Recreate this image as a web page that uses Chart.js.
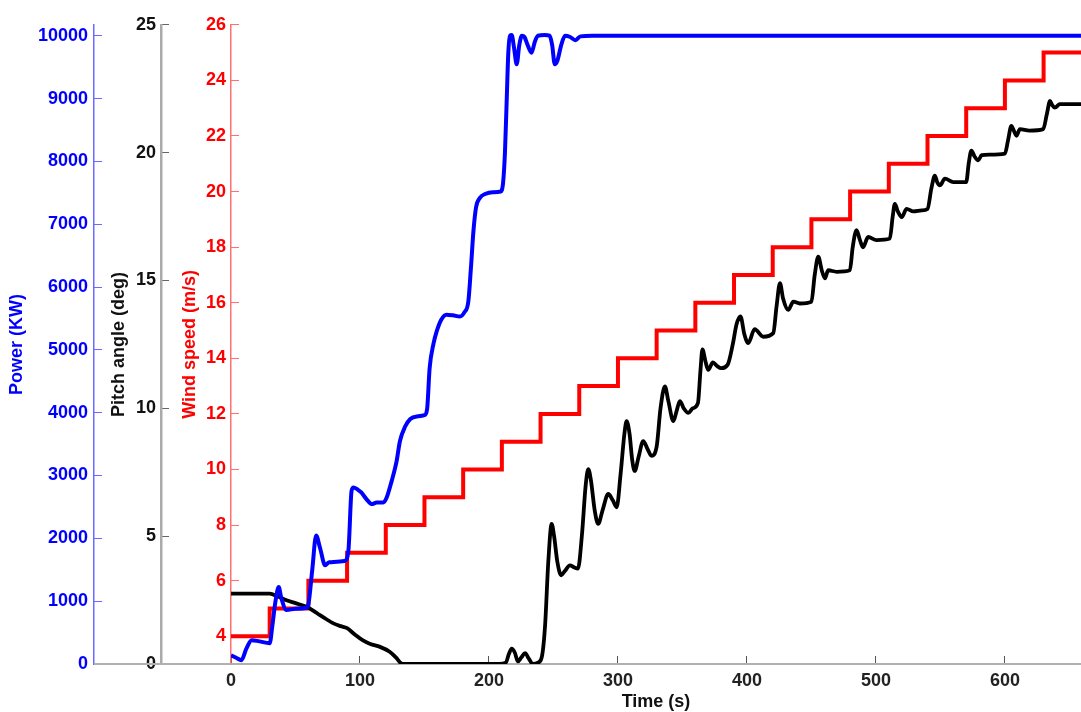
<!DOCTYPE html>
<html>
<head>
<meta charset="utf-8">
<script src="https://cdn.jsdelivr.net/npm/chart.js@4.4.1/dist/chart.umd.min.js"></script>
<style>
  html, body { margin: 0; padding: 0; background: #fff; }
  #wrap { width: 1081px; height: 712px; }
</style>
</head>
<body>
<div id="wrap"><canvas id="chart"></canvas></div>
<script>
Chart.defaults.font.family = '"Liberation Sans", Arial, sans-serif';
Chart.defaults.font.weight = 'bold';
Chart.defaults.font.size = 18;

// wind speed steps (m/s)
const windTime  = [0, 30, 60, 90, 120, 150, 180, 210, 240, 270, 300, 330, 360, 390, 420, 450, 480, 510, 540, 570, 600, 630, 659];
const windSpeed = [4, 5, 6, 7, 8, 9, 10, 11, 12, 13, 14, 15, 16, 17, 18, 19, 20, 21, 22, 23, 24, 25, 25];

// power (KW)
const powerTime  = [0, 4, 8, 12, 16, 22, 30, 32, 34.5, 37, 39, 43, 50, 58, 60, 63, 66, 69, 73, 76, 88, 91, 93.5, 95, 98, 101, 105, 109, 113, 118, 120.7, 124.6, 128.4, 131, 135, 139, 144, 150, 152, 154, 157, 159.4, 163, 167, 172, 177.5, 181, 184, 186, 188, 190, 193, 197, 203, 209, 211, 212.4, 213.7, 215, 216.3, 217.6, 219.5, 221.5, 223.5, 225.5, 227.5, 230, 233, 235.5, 238, 243, 247, 249, 251, 253, 256, 259, 263, 267, 271, 280, 400, 500, 600, 659];
const powerValue = [140, 100, 60, 250, 380, 360, 330, 600, 1000, 1225, 1050, 860, 880, 890, 950, 1500, 2045, 1850, 1570, 1620, 1640, 1800, 2760, 2810, 2780, 2730, 2625, 2545, 2570, 2570, 2650, 2915, 3230, 3550, 3780, 3900, 3940, 3960, 4050, 4710, 5100, 5290, 5480, 5560, 5550, 5530, 5600, 5770, 6300, 6900, 7270, 7420, 7480, 7510, 7520, 7670, 8145, 8940, 9730, 10000, 10010, 9800, 9545, 9850, 10000, 9980, 9850, 9730, 9900, 10000, 10010, 10000, 9850, 9545, 9600, 9850, 10000, 9980, 9930, 9990, 10000, 10000, 10000, 10000, 10000];

// pitch angle (deg)
const pitchTime  = [0, 30, 36, 43, 50, 59, 64, 69, 74, 79, 85, 90, 96, 102, 108, 115.5, 123, 128, 132, 134, 170, 208, 213, 215.5, 217.6, 220, 222.5, 225, 228, 231, 234, 238, 241, 243.5, 246, 248.6, 250.5, 253, 256, 259, 262.8, 266, 269, 272, 275, 277, 279, 282, 284.7, 288, 292.5, 296, 299, 302, 305, 306.7, 309, 311, 313, 316, 319.6, 323, 326, 330, 333, 336.4, 339, 343, 345.5, 348, 351, 354.5, 358, 362, 364, 365.5, 368, 370, 373.6, 377, 380, 385, 389, 392, 395, 398, 401, 406, 412.6, 420.4, 423, 425.6, 428, 432, 436, 441, 450, 452.5, 455.3, 458, 460.5, 463, 469.5, 479.8, 482, 485, 487.5, 490, 494, 500.5, 510.8, 513, 514.7, 517, 520, 523.8, 529, 535.4, 540, 543, 545.7, 547.5, 549.6, 553.5, 560, 570, 572, 574, 576.5, 579.3, 582, 588, 600, 602.5, 605, 607, 609, 611.6, 619, 629.7, 632.5, 635, 636.8, 638.8, 642.6, 650, 659];
const pitchValue = [2.75, 2.75, 2.65, 2.49, 2.38, 2.23, 2.08, 1.91, 1.75, 1.6, 1.48, 1.4, 1.15, 0.93, 0.78, 0.67, 0.48, 0.25, 0.02, 0, 0, 0, 0.05, 0.4, 0.6, 0.45, 0.1, 0.25, 0.42, 0.2, 0, 0.05, 0.28, 1.5, 4.0, 5.48, 5.0, 4.0, 3.47, 3.65, 3.86, 3.78, 3.73, 5.0, 7.0, 7.62, 7.2, 6.0, 5.48, 6.0, 6.65, 6.4, 6.13, 7.4, 9.0, 9.5, 9.0, 8.0, 7.55, 8.1, 8.72, 8.4, 8.14, 8.5, 10.0, 10.86, 10.3, 9.5, 9.9, 10.28, 10.0, 9.82, 10.0, 10.2, 11.5, 12.3, 11.8, 11.5, 11.8, 11.65, 11.57, 11.7, 12.5, 13.3, 13.6, 12.9, 12.55, 13.1, 12.8, 12.94, 14.0, 14.9, 14.3, 13.85, 14.17, 14.1, 14.17, 15.2, 15.93, 15.4, 15.08, 15.4, 15.34, 15.4, 16.3, 16.97, 16.6, 16.3, 16.7, 16.58, 16.64, 17.5, 18.0, 17.7, 17.48, 17.8, 17.7, 17.74, 17.8, 18.6, 19.1, 18.85, 18.72, 18.98, 18.85, 18.85, 19.6, 20.08, 19.85, 19.7, 19.9, 19.92, 19.96, 20.5, 21.05, 20.85, 20.66, 20.92, 20.86, 20.92, 21.5, 22.02, 21.85, 21.76, 21.9, 21.9, 21.9];

// tick labels
const xTicks     = [0, 100, 200, 300, 400, 500, 600];
const powerTicks = [0, 1000, 2000, 3000, 4000, 5000, 6000, 7000, 8000, 9000, 10000];
const pitchTicks = [0, 5, 10, 15, 20, 25];
const windTicks  = [4, 6, 8, 10, 12, 14, 16, 18, 20, 22, 24, 26];

function toPoints(xs, ys) {
    return xs.map((x, i) => ({ x: x, y: ys[i] }));
}

function useTicks(values) {
    return (scale) => {
        scale.ticks = values.map(v => ({ value: v }));
    };
}

const plainLabel = (value) => String(value);

// grey base line continues left under the extra y axes
const baseLine = {
    id: 'baseLine',
    beforeDatasetsDraw(chart) {
        const { ctx, chartArea, scales } = chart;
        ctx.save();
        ctx.strokeStyle = '#b0b0b0';
        ctx.lineWidth = 2;
        ctx.beginPath();
        ctx.moveTo(scales.power.right, chartArea.bottom);
        ctx.lineTo(chartArea.left, chartArea.bottom);
        ctx.stroke();
        ctx.restore();
    }
};

new Chart(document.getElementById('chart'), {
    type: 'line',
    data: {
        datasets: [
            {
                label: 'Power',
                data: toPoints(powerTime, powerValue),
                yAxisID: 'power',
                borderColor: '#0000ff',
                borderWidth: 4,
                pointRadius: 0,
                cubicInterpolationMode: 'monotone',
                fill: false
            },
            {
                label: 'Pitch angle',
                data: toPoints(pitchTime, pitchValue),
                yAxisID: 'pitch',
                borderColor: '#000000',
                borderWidth: 3.8,
                pointRadius: 0,
                cubicInterpolationMode: 'monotone',
                fill: false
            },
            {
                label: 'Wind speed',
                data: toPoints(windTime, windSpeed),
                yAxisID: 'wind',
                borderColor: '#ff0000',
                borderWidth: 4,
                pointRadius: 0,
                stepped: true,
                fill: false
            }
        ]
    },
    options: {
        responsive: true,
        maintainAspectRatio: false,
        animation: false,
        layout: { padding: { top: 22, left: 0, right: 0, bottom: 0 } },
        plugins: { legend: { display: false }, tooltip: { enabled: false } },
        scales: {
            x: {
                type: 'linear',
                min: 0,
                max: 659,
                afterBuildTicks: useTicks(xTicks),
                afterFit: (scale) => { scale.height = 48; },
                border: { color: '#b0b0b0', width: 2 },
                grid: { drawOnChartArea: false, tickLength: -8, tickColor: '#555', tickWidth: 1 },
                ticks: { color: '#222', padding: 14, maxRotation: 0, autoSkip: false, callback: plainLabel },
                title: { display: true, text: 'Time (s)', color: '#111', padding: 0, font: { size: 18, lineHeight: 1.1 } }
            },
            wind: {
                position: 'left',
                weight: 0,
                min: 3,
                max: 26,
                ticks: { color: '#ff0000', padding: 13, autoSkip: false, callback: plainLabel },
                afterBuildTicks: useTicks(windTicks),
                afterFit: (scale) => { scale.width = 70; },
                border: { color: '#ff7070', width: 1.5 },
                grid: { drawOnChartArea: false, tickLength: -8, tickColor: '#ff7070' },
                title: { display: true, text: 'Wind speed (m/s)', color: '#ff0000', padding: { top: 18, bottom: 0 } }
            },
            pitch: {
                position: 'left',
                weight: 1,
                min: 0,
                max: 25,
                ticks: { color: '#111', padding: 13, autoSkip: false, callback: plainLabel },
                afterBuildTicks: useTicks(pitchTicks),
                afterFit: (scale) => { scale.width = 67; },
                border: { color: '#aaaaaa', width: 2.5 },
                grid: { drawOnChartArea: false, tickLength: -8, tickColor: '#666' },
                title: { display: true, text: 'Pitch angle (deg)', color: '#111', padding: { top: 14, bottom: 0 } }
            },
            power: {
                position: 'left',
                weight: 2,
                min: 0,
                max: 10174,
                ticks: { color: '#0000ff', padding: 14, autoSkip: false, callback: plainLabel },
                afterBuildTicks: useTicks(powerTicks),
                afterFit: (scale) => { scale.width = 94; },
                border: { color: '#6a6aff', width: 1.5 },
                grid: { drawOnChartArea: false, tickLength: -8, tickColor: '#6a6aff' },
                title: { display: true, text: 'Power (KW)', color: '#0000ff', padding: { top: 6, bottom: 0 } }
            }
        }
    },
    plugins: [baseLine]
});
</script>
</body>
</html>
